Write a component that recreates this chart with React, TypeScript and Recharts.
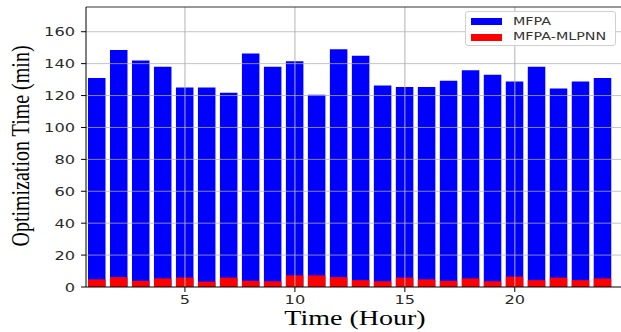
import React from 'react';
import { BarChart, Bar, XAxis, YAxis, ReferenceLine } from 'recharts';

const hours = [1, 2, 3, 4, 5, 6, 7, 8, 9, 10, 11, 12, 13, 14, 15, 16, 17, 18, 19, 20, 21, 22, 23, 24];
const mfpa = [131, 148.5, 142, 138, 125, 125, 121.7, 146.3, 138, 141.5, 120.5, 149, 145, 126.3, 125.4, 125.4, 129.2, 135.8, 133, 128.8, 138, 124.4, 128.8, 131];
const mfpaMlpnn = [4.8, 6.2, 3.9, 5.4, 5.9, 3.4, 5.9, 3.9, 3.6, 7.3, 7.3, 6.2, 4.3, 3.6, 5.9, 4.8, 3.9, 5.4, 3.6, 6.5, 4.3, 5.9, 4.3, 5.4];
const xTicks = [5, 10, 15, 20];
const yTicks = [0, 20, 40, 60, 80, 100, 120, 140, 160];

const data = hours.map((h, i) => ({ hour: h, mfpa: mfpa[i], mlpnn: mfpaMlpnn[i] }));

const tickFont = { fontFamily: 'DejaVu Sans', fontSize: 12, fill: '#2a2a2a' };

const XTick = ({ x, y, payload }: any) => (
  <g transform={`translate(${x},${y})`}>
    <text x={0} y={0} dy={10} textAnchor="middle" transform="scale(1.35,1)" {...tickFont}>
      {payload.value}
    </text>
  </g>
);

const YTick = ({ x, y, payload }: any) => (
  <g transform={`translate(${x - 4},${y})`}>
    <text x={0} y={0} dy={4.5} textAnchor="end" transform="scale(1.35,1)" {...tickFont}>
      {payload.value}
    </text>
  </g>
);

const gridStroke = 'rgba(176,176,176,0.75)';

export default function App() {
  return (
    <div style={{ position: 'absolute', left: 0, top: 0, width: 621, height: 332, background: '#fff' }}>
      <BarChart
        width={621}
        height={332}
        data={data}
        margin={{ top: 7, right: 0, left: 0, bottom: 0 }}
        barGap={-17.5}
      >
        <XAxis
          dataKey="hour"
          type="number"
          domain={[0.5, 24.83]}
          allowDataOverflow
          ticks={xTicks}
          height={45}
          tick={<XTick />}
          tickSize={5}
          tickLine={{ stroke: '#000' }}
          axisLine={{ stroke: '#000' }}
        />
        <YAxis
          type="number"
          domain={[0, 175.5]}
          allowDataOverflow
          ticks={yTicks}
          width={86}
          tick={<YTick />}
          tickSize={5}
          tickLine={{ stroke: '#000' }}
          axisLine={{ stroke: '#000' }}
        />
        <Bar dataKey="mfpa" fill="#0000ff" barSize={17.5} isAnimationActive={false} />
        <Bar dataKey="mlpnn" fill="#ff0000" barSize={17.5} isAnimationActive={false} />
        {yTicks.filter((v) => v > 0).map((v) => (
          <ReferenceLine key={'h' + v} y={v} stroke={gridStroke} strokeWidth={1} />
        ))}
        {xTicks.map((v) => (
          <ReferenceLine key={'v' + v} x={v} stroke={gridStroke} strokeWidth={1.3} />
        ))}
        <ReferenceLine y={175.5} stroke="#333" strokeWidth={1} />
      </BarChart>

      {/* legend */}
      <div
        style={{
          position: 'absolute',
          left: 465,
          top: 11,
          width: 151,
          height: 35,
          border: '1px solid #d0d0d0',
          borderRadius: 3,
          background: 'rgba(255,255,255,0.85)',
          boxSizing: 'border-box',
        }}
      >
        <div style={{ position: 'absolute', left: 5, top: 6, width: 31, height: 7, background: '#0000ff' }} />
        <div style={{ position: 'absolute', left: 5, top: 22, width: 31, height: 7, background: '#ff0000' }} />
        <div
          style={{
            position: 'absolute', left: 47, top: 3, fontFamily: 'DejaVu Sans', fontSize: 11, lineHeight: '13px',
            color: '#333', transform: 'scaleX(1.3)', transformOrigin: 'left', whiteSpace: 'nowrap',
          }}
        >
          MFPA
        </div>
        <div
          style={{
            position: 'absolute', left: 47, top: 18, fontFamily: 'DejaVu Sans', fontSize: 11, lineHeight: '13px',
            color: '#333', transform: 'scaleX(1.3)', transformOrigin: 'left', whiteSpace: 'nowrap',
          }}
        >
          MFPA-MLPNN
        </div>
      </div>

      {/* axis titles */}
      <div
        style={{
          position: 'absolute', left: 255, top: 308, width: 200, textAlign: 'center',
          fontFamily: 'Liberation Serif', fontSize: 20, lineHeight: '20px', color: '#000',
          transform: 'scaleX(1.4)', whiteSpace: 'nowrap',
        }}
      >
        Time (Hour)
      </div>
      <div
        style={{
          position: 'absolute', left: -110, top: 135, width: 260, height: 22, textAlign: 'center',
          fontFamily: 'Liberation Serif', fontSize: 20, lineHeight: '22px', color: '#000',
          transform: 'rotate(-90deg) scaleY(1.25)', whiteSpace: 'nowrap',
        }}
      >
        Optimization Time (min)
      </div>
    </div>
  );
}
